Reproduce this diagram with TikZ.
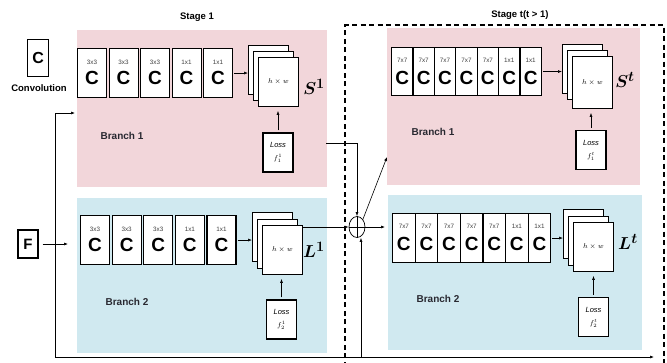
\documentclass[tikz,border=0pt]{standalone}
\usepackage{fontspec}
\setmainfont{Liberation Sans}
\usetikzlibrary{arrows.meta,shapes.geometric}
\definecolor{pinkbg}{RGB}{242,214,218}
\definecolor{bluebg}{RGB}{208,233,240}
\definecolor{lbl}{RGB}{40,40,48}
\begin{document}
\begin{tikzpicture}[x=1pt,y=-1pt,
  convbox/.style={draw, line width=1.1pt, fill=white, minimum width=29pt, minimum height=49pt, inner sep=0pt, anchor=north west},
  convnarrow/.style={convbox, minimum width=21.4pt, minimum height=48pt},
  ksz/.style={font=\fontsize{6.3}{7}\selectfont, inner sep=0pt, text=black!75},
  cletter/.style={font=\fontsize{19}{19}\selectfont\bfseries, inner sep=0pt},
  pagebox/.style={draw, line width=0.9pt, fill=white, minimum width=40pt, minimum height=49pt, inner sep=0pt, anchor=north west, font=\fontsize{7}{8}\selectfont},
  lossbox/.style={draw, line width=1.1pt, fill=white, minimum width=30pt, minimum height=39pt, align=center, inner sep=0pt, font=\fontsize{7.5}{13}\selectfont},
  arr/.style={-{Latex[length=4pt,width=3pt]}, line width=0.6pt},
  branchlbl/.style={font=\fontsize{10}{12}\selectfont\bfseries, text=lbl, inner sep=0pt},
  stagelbl/.style={font=\fontsize{9.5}{11}\selectfont\bfseries, inner sep=0pt},
  maplbl/.style={font=\fontsize{19}{19}\selectfont\boldmath, inner sep=0pt}
]
\useasboundingbox (0,0) rectangle (667,362);
\clip (0,0) rectangle (667,362);
% backgrounds
\fill[pinkbg] (77,30) rectangle (327,187);
\fill[bluebg] (77,198) rectangle (327,353);
\fill[pinkbg] (387,28) rectangle (640,185);
\fill[bluebg] (388,195) rectangle (642,350);
% dashed stage t frame
\draw[line width=1.4pt, dash pattern=on 5pt off 3.5pt] (345,375) -- (345,25) -- (664,25) -- (664,375);
% stage labels
\node[stagelbl] (st1) at (197,17) {Stage 1};
\node[stagelbl] (stt) at (520,15) {Stage t(t > 1)};
% legend
\node[convbox, minimum width=21pt, minimum height=37pt] (leg) at (27,39) {};
\node[cletter, font=\fontsize{16}{16}\selectfont\bfseries] (legc) at (leg.center) {C};
\node[font=\fontsize{9.5}{11}\selectfont\bfseries, inner sep=0pt] (legt) at (39,88) {Convolution};
% F
\node[draw, line width=1.2pt, minimum width=20pt, minimum height=28pt, inner sep=0pt, font=\fontsize{15}{15}\selectfont\bfseries] (F) at (28,244) {F};
% stage 1 branch 1
\foreach \i/\k in {0/3x3,1/3x3,2/3x3,3/1x1,4/1x1}{
  \node[convbox] (pa\i) at (77+31.5*\i,48) {};
  \node[ksz] (pak\i) at ([yshift=-14pt]pa\i.north) {\k};
  \node[cletter] (pac\i) at ([yshift=-5pt]pa\i.center) {C};
}
\node[pagebox] (sa3) at (248,45) {};
\node[pagebox] (sa2) at (253,51) {};
\node[pagebox] (sa1) at (258,57) {$h\times w$};
\node[maplbl] (S1) at (314,87) {$S^1$};
\node[lossbox] (la) at (278,152.5) {$\mathit{Loss}$\\$f_1^1$};
\node[branchlbl] (ba) at (122,136) {Branch 1};
\draw[arr] ([xshift=1pt]pa4.east) -- (sa3.west |- pa4.east);
\draw[arr] ([yshift=2pt]la.north) -- ([yshift=-4pt]sa1.south -| la.north);
% stage 1 branch 2
\foreach \i/\k in {0/3x3,1/3x3,2/3x3,3/1x1,4/1x1}{
  \node[convbox] (pb\i) at (80+31.6*\i,215) {};
  \node[ksz] (pbk\i) at ([yshift=-14pt]pb\i.north) {\k};
  \node[cletter] (pbc\i) at ([yshift=-5pt]pb\i.center) {C};
}
\node[pagebox] (sb3) at (252,212) {};
\node[pagebox] (sb2) at (257,218.5) {};
\node[pagebox] (sb1) at (262,225) {$h\times w$};
\node[maplbl] (L1) at (314,250) {$L^1$};
\node[lossbox] (lb) at (281.5,319.5) {$\mathit{Loss}$\\$f_2^1$};
\node[branchlbl] (bb) at (127,302) {Branch 2};
\draw[arr] ([xshift=1pt]pb4.east) -- (sb3.west |- pb4.east);
\draw[arr] ([yshift=2pt]lb.north) -- ([yshift=-4pt]sb1.south -| lb.north);
% stage t branch 1
\foreach \i/\k in {0/7x7,1/7x7,2/7x7,3/7x7,4/7x7,5/1x1,6/1x1}{
  \node[convnarrow] (ta\i) at (391+21.4*\i,47) {};
  \node[ksz] (tak\i) at ([yshift=-13pt]ta\i.north) {\k};
  \node[cletter] (tac\i) at ([yshift=-6pt]ta\i.center) {C};
}
\node[pagebox] (ua3) at (562,44) {};
\node[pagebox] (ua2) at (567,50) {};
\node[pagebox, minimum height=52pt] (ua1) at (572,56) {$h\times w$};
\node[maplbl] (St) at (625,80) {$S^t$};
\node[lossbox] (lc) at (591,150) {$\mathit{Loss}$\\$f_1^t$};
\node[branchlbl] (bc) at (433,132) {Branch 1};
\draw[arr] ([xshift=1pt]ta6.east) -- (ua3.west |- ta6.east);
\draw[arr] ([yshift=2pt]lc.north) -- ([yshift=-4pt]ua1.south -| lc.north);
% stage t branch 2
\foreach \i/\k in {0/7x7,1/7x7,2/7x7,3/7x7,4/7x7,5/1x1,6/1x1}{
  \node[convnarrow, minimum width=22.6pt, minimum height=49pt] (tb\i) at (392+22.6*\i,213) {};
  \node[ksz] (tbk\i) at ([yshift=-13pt]tb\i.north) {\k};
  \node[cletter] (tbc\i) at ([yshift=-6pt]tb\i.center) {C};
}
\node[pagebox] (ub3) at (563,209) {};
\node[pagebox] (ub2) at (568,215.5) {};
\node[pagebox] (ub1) at (573,222) {$h\times w$};
\node[maplbl] (Lt) at (628,242) {$L^t$};
\node[lossbox] (ld) at (593.5,317) {$\mathit{Loss}$\\$f_2^t$};
\node[branchlbl] (bd) at (438,299) {Branch 2};
\draw[arr] ([xshift=1pt]tb6.east) -- (ub3.west |- tb6.east);
\draw[arr] ([yshift=2pt]ld.north) -- ([yshift=-4pt]ub1.south -| ld.north);
% sum node
\node[draw, ellipse, line width=0.7pt, minimum width=16pt, minimum height=21pt, inner sep=0pt] (sum) at (357,227) {};
\draw[line width=0.6pt] (sum.north) -- (sum.south) (sum.west) -- (sum.east);
% connectors
\coordinate (tl) at (55,113);
\coordinate (bl) at (55,357);
\coordinate (b1in) at (75,113);
\coordinate (b2in) at (68,244);
\coordinate (bend) at (654,357);
\coordinate (s1out) at (326,143);
\coordinate (l1out) at (303,227);
\coordinate (tbin) at (385,227);
\coordinate (tain) at (387,157);
\coordinate (bup) at (361,357);
\draw[arr] (F.east) ++(4pt,0) -- (b2in);
\draw[arr] (bl) -- (tl) -- (b1in);
\draw[arr] (bl) -- (bend);
\draw[arr] (s1out) -- (s1out -| sum.north) -- (sum.north);
\draw[arr] (l1out) -- (sum.west);
\draw[arr] (sum.east) -- (tbin);
\draw[arr] (sum.north east) -- (tain);
\draw[arr] (bup) -- (bup |- sum.south);
\end{tikzpicture}
\end{document}
